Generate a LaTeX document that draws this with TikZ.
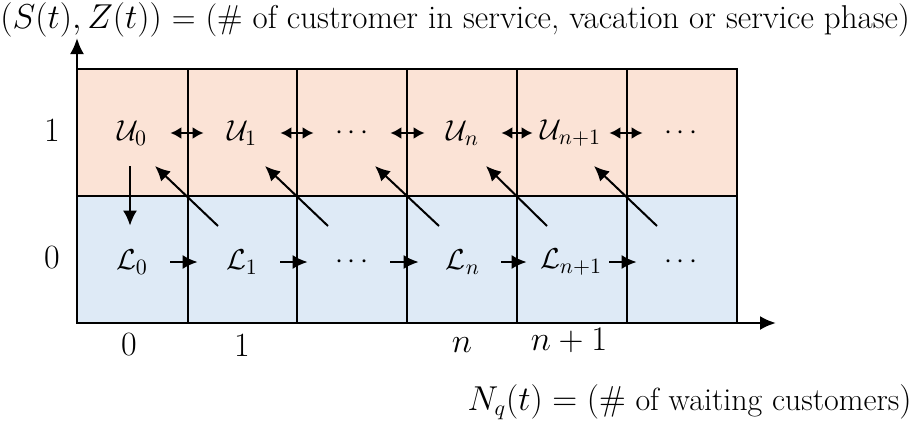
\documentclass[tikz,border=0pt]{standalone}
\usetikzlibrary{arrows.meta,calc}
\definecolor{peach}{RGB}{251,227,214}
\definecolor{paleblue}{RGB}{222,234,246}
\begin{document}
\begin{tikzpicture}[x=0.5pt,y=-0.5pt,
  gridline/.style={draw=black,line width=0.8pt},
  axisline/.style={line width=1.2pt,-{Latex[length=8pt,width=7pt]}},
  arr/.style={line width=1pt,-{Latex[length=7.5pt,width=7pt]}},
  darr/.style={line width=1pt,{Latex[length=5.5pt,width=6pt]}-{Latex[length=5.5pt,width=6pt]}},
  st/.style={inner sep=0pt,minimum width=38pt,minimum height=33pt,font=\fontsize{15}{18}\selectfont},
  ax/.style={inner sep=0pt,font=\fontsize{17}{20}\selectfont}]
\useasboundingbox (0,0) rectangle (922,423);
% cells
\fill[peach] (77,69) rectangle (737,196);
\fill[paleblue] (77,196) rectangle (737,323);
\draw[gridline] (77,69) rectangle (737,323);
\draw[gridline] (77,196) -- (737,196);
\foreach \x in {188,297,407,517,627} \draw[gridline] (\x,69) -- (\x,323);
% axes
\coordinate (o) at (77,323);
\coordinate (ytip) at (77,38);
\coordinate (xtip) at (776,323);
\draw[axisline] (o) -- (ytip);
\draw[axisline] (o) -- (xtip);
% states
\node[st] (u0) at (132,133) {$\mathcal{U}_0$};
\node[st] (u1) at (242,133) {$\mathcal{U}_1$};
\node[st] (ud) at (352,133) {$\cdots$};
\node[st] (un) at (463,133) {$\mathcal{U}_n$};
\node[st] (un1) at (571,133) {$\mathcal{U}_{n+1}$};
\node[st] (ue) at (681,133) {$\cdots$};
\node[st] (l0) at (132,262) {$\mathcal{L}_0$};
\node[st] (l1) at (242,262) {$\mathcal{L}_1$};
\node[st] (ld) at (352,262) {$\cdots$};
\node[st] (ln) at (463,262) {$\mathcal{L}_n$};
\node[st] (ln1) at (571,262) {$\mathcal{L}_{n+1}$};
\node[st] (le) at (681,262) {$\cdots$};
% horizontal arrows
\foreach \a/\b in {u0/u1,u1/ud,ud/un,un/un1,un1/ue}
  \draw[darr] (\a.east) -- (\b.west);
\foreach \a/\b in {l0/l1,l1/ld,ld/ln,ln/ln1,ln1/le}
  \draw[arr] (\a.east) -- ([xshift=-3pt]\b.west);
% vertical arrow
\draw[arr] ([xshift=-1pt]u0.south) -- ([xshift=-1pt,yshift=1.5pt]l0.north);
% diagonal arrows
\foreach \a/\b in {l1/u0,ld/u1,ln/ud,ln1/un,le/un1}
  \draw[arr] ([shift={(-24,-36)}]\a.center) -- ([shift={(23,33)}]\b.center);
% axis labels
\node[ax] (y1) at (52,130) {1};
\node[ax] (y0) at (52,258) {0};
\node[ax] (x0) at (129,345) {0};
\node[ax] (x1) at (242,345) {1};
\node[ax] (xn) at (462,345) {$n$};
\node[ax] (xn1) at (569,340) {$n+1$};
% titles
\node[anchor=west,inner sep=0pt,font=\fontsize{16.5}{19}\selectfont] (ttl) at (0,20)
  {$\bigl(S(t),Z(t)\bigr)$ = (\# of custromer in service, vacation or service phase)};
\node[anchor=east,inner sep=0pt,font=\fontsize{16}{19}\selectfont] (btl) at (912,402)
  {$N_q(t) = (\#$ of waiting customers$)$};
\end{tikzpicture}
\end{document}
